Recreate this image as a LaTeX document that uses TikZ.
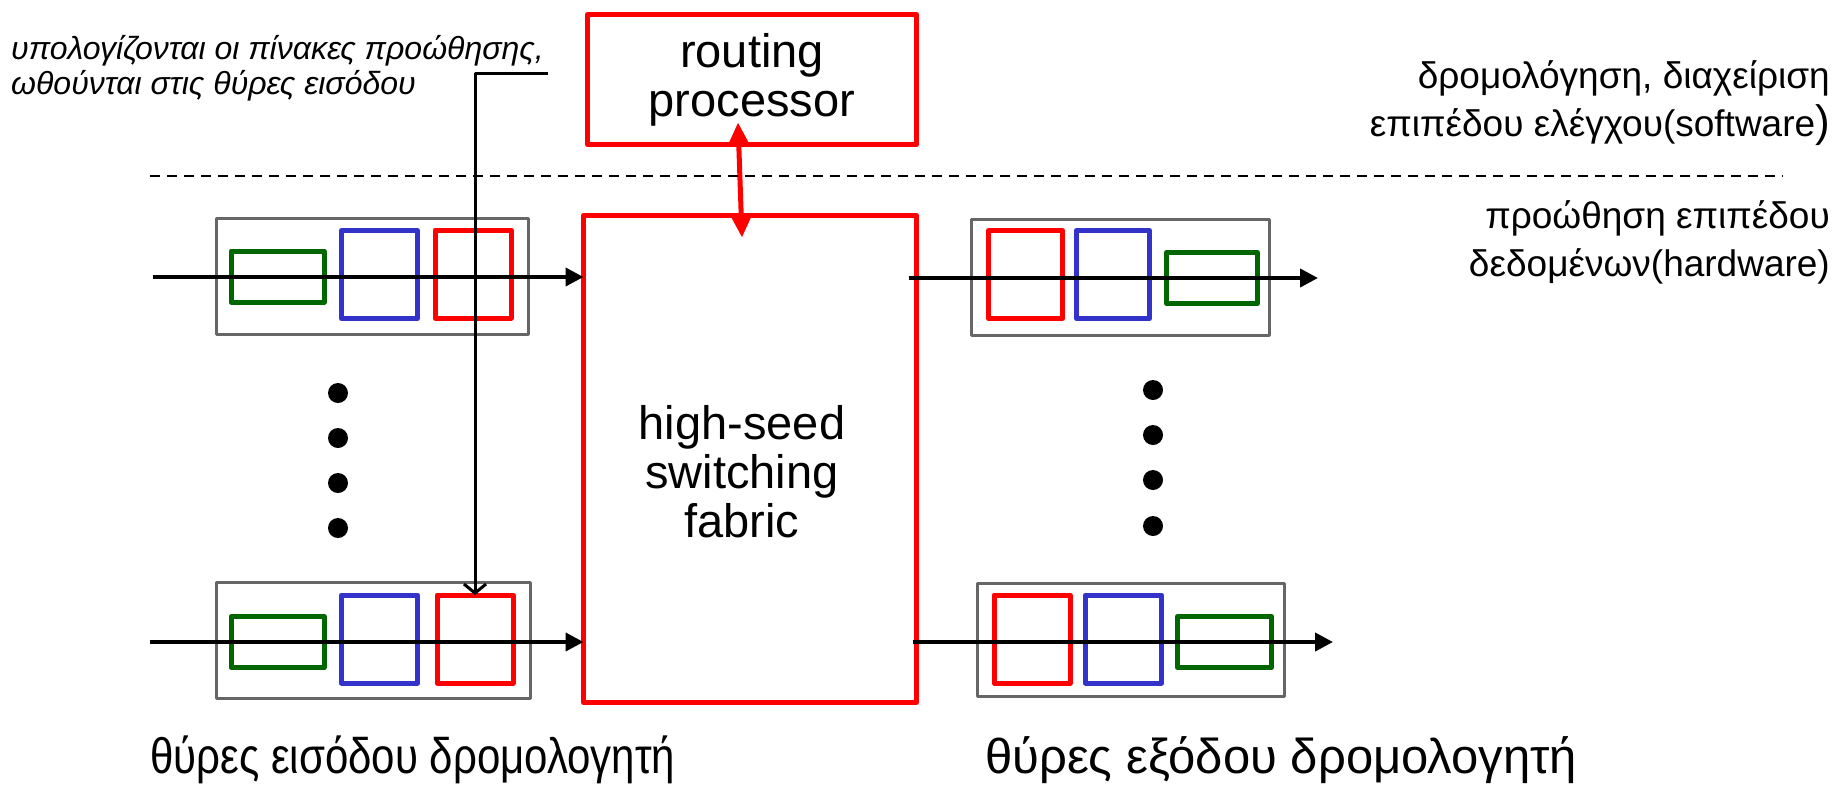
\documentclass[tikz,border=0pt]{standalone}
\usepackage{fontspec}
\setmainfont{Liberation Sans}
\newfontfamily\portfont[FakeStretch=0.84]{Liberation Sans}
\usetikzlibrary{arrows.meta,positioning}
\definecolor{fabred}{HTML}{FF0000}
\definecolor{qblue}{HTML}{3333CC}
\definecolor{qgreen}{HTML}{006600}
\definecolor{portgray}{HTML}{666666}
\tikzset{
  redbox/.style={draw=fabred,line width=5pt,inner sep=0pt,outer sep=0pt},
  portbox/.style={draw=portgray,line width=3pt,inner sep=0pt,outer sep=0pt,minimum height=116pt},
  qbuf/.style={line width=5pt,inner sep=0pt,outer sep=0pt,minimum width=76pt,minimum height=88pt},
  qred/.style={qbuf,draw=fabred},
  qblu/.style={qbuf,draw=qblue},
  qgrn/.style={qbuf,draw=qgreen,minimum width=93pt,minimum height=51pt},
  flow/.style={line width=4pt,-{Triangle[length=18pt,width=18pt]}},
  bigtext/.style={font=\fontsize{47}{49}\selectfont,align=center,inner sep=0pt},
  sidetext/.style={font=\fontsize{37}{48}\selectfont,align=right,inner sep=0pt},
  porttext/.style={font=\fontsize{49}{56}\selectfont,inner sep=0pt},
  inporttext/.style={font=\portfont\fontsize{50}{56}\selectfont,inner sep=0pt}
}
\begin{document}
\begin{tikzpicture}[x=1pt,y=-1pt,line join=round]
	\useasboundingbox (0,0) rectangle (1845,785);
	
	\def\rdot{10}
	% control plane
	\node[redbox,minimum width=329pt,minimum height=130pt,bigtext] (rp) at (752,79.5) {routing\\processor};
	\node[redbox,minimum width=333pt,minimum height=487pt] (fab) at (750,459) {};
	\node[bigtext,below=190pt of fab.north,xshift=-8pt] (fabtxt) {high-seed\\switching\\fabric};
	\draw[fabred,line width=5pt,{Triangle[length=24pt,width=22pt]}-{Triangle[length=24pt,width=22pt]}]
		([shift={(-14,-22)}]rp.south) -- ([shift={(-8,22)}]fab.north);
	
	\coordinate (dl) at (150,176);
	\coordinate (dr) at (1783,176);
	\draw[line width=1.5pt,dash pattern=on 10pt off 7pt] (dl) -- (dr); % ranh giới hai mặt phẳng
	
	% input ports
	\node[portbox,minimum width=312pt] (inA) at (372.5,276) {};
	\node[qgrn] (inAg) at (277.5,276.5) {};
	\node[qblu] (inAb) at (379.5,274.5) {};
	\node[qred] (inAr) at (473,274) {};
	\node[portbox,minimum width=314pt] (inB) at (373.5,640) {};
	\node[qgrn] (inBg) at (277.5,642) {};
	\node[qblu] (inBb) at (379.5,639) {};
	\node[qred] (inBr) at (475,639) {};
	
	% output ports
	\node[portbox,minimum width=298pt] (outA) at (1120.5,277) {};
	\node[qred,minimum width=74pt] (outAr) at (1025.5,274.5) {};
	\node[qblu,minimum width=73pt] (outAb) at (1113,274.5) {};
	\node[qgrn,minimum width=91pt] (outAg) at (1212,278) {};
	\node[portbox,minimum width=307pt,minimum height=113pt] (outB) at (1131,640) {};
	\node[qred] (outBr) at (1032,639) {};
	\node[qblu] (outBb) at (1123.5,639) {};
	\node[qgrn,minimum width=94pt] (outBg) at (1224.5,642) {};
	
	\coordinate (inAs) at (153,277);
	\coordinate (inBs) at (150,642);
	\coordinate (outAe) at (1318,278);
	\coordinate (outBe) at (1333,642);
	\draw[flow] (inAs) -- (inAs -| fab.west);
	\draw[flow] (inBs) -- (inBs -| fab.west);
	\draw[flow] ([xshift=-8pt]outAe -| fab.east) -- (outAe);
	\draw[flow] ([xshift=-4pt]outBe -| fab.east) -- (outBe);
	
	\foreach \y in {393,438,483,528} \fill (338,\y) circle(\rdot);
	\foreach \y in {390,435,480,526} \fill (1153,\y) circle(\rdot);
	
	% forwarding tables pushed to the ports
	\node[anchor=north west,align=left,inner sep=0pt,font=\itshape\fontsize{32}{35}\selectfont] (tnote) at (11,35)
		{υπολογίζονται οι πίνακες προώθησης,\\ωθούνται στις θύρες εισόδου};
	\coordinate (tbl) at (548,73);
	\draw[line width=3pt,-{Straight Barb[length=9pt,width=22pt]}] (tbl) -| (inBr.north);
	
	\node[sidetext,anchor=north east] (cptxt) at (1830,60)
		{δρομολόγηση, διαχείριση\\επιπέδου ελέγχου(software{\fontsize{44}{48}\selectfont)}};
	\node[sidetext,anchor=north east] (dptxt) at (1830,200)
		{προώθηση επιπέδου\\δεδομένων(hardware)};
	
	\node[inporttext,anchor=base west] (inlbl) at (150,773) {θύρες εισόδου δρομολογητή};
	\node[porttext,anchor=base west] (outlbl) at (985,773) {θύρες εξόδου δρομολογητή};
\end{tikzpicture}
\end{document}
